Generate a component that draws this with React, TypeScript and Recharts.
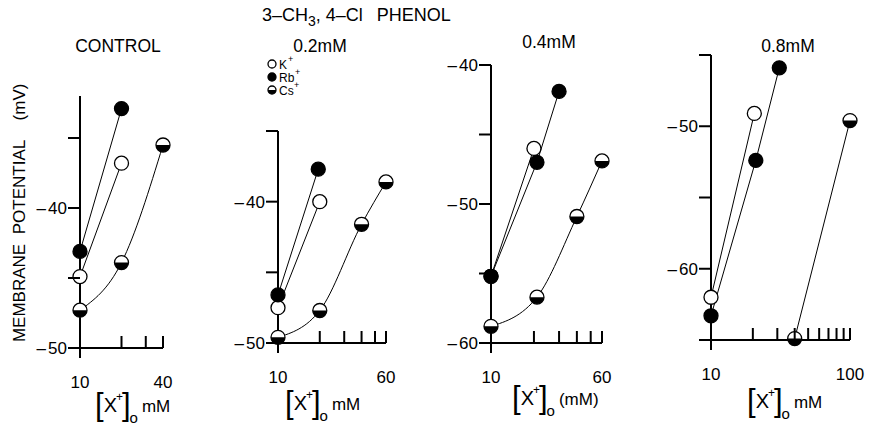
import { LineChart, Line, XAxis, YAxis } from 'recharts';

// [X+]o (mM) against membrane potential (mV)
const CONTROL_K = [{ conc: 10, mv: -44.9 }, { conc: 20, mv: -36.8 }];
const CONTROL_RB = [{ conc: 10, mv: -43.1 }, { conc: 20, mv: -32.9 }];
const CONTROL_CS = [{ conc: 10, mv: -47.3 }, { conc: 20, mv: -43.9 }, { conc: 40, mv: -35.5 }];

const PHENOL_02_K = [{ conc: 10, mv: -47.5 }, { conc: 20, mv: -40.0 }];
const PHENOL_02_RB = [{ conc: 10, mv: -46.6 }, { conc: 19.5, mv: -37.7 }];
const PHENOL_02_CS = [{ conc: 10, mv: -49.6 }, { conc: 20, mv: -47.7 }, { conc: 40, mv: -41.6 }, { conc: 60, mv: -38.6 }];

const PHENOL_04_K = [{ conc: 10, mv: -55.2 }, { conc: 20, mv: -46.0 }];
const PHENOL_04_RB = [{ conc: 10, mv: -55.2 }, { conc: 21, mv: -47.0 }, { conc: 30, mv: -41.9 }];
const PHENOL_04_CS = [{ conc: 10, mv: -58.8 }, { conc: 21, mv: -56.7 }, { conc: 40, mv: -50.9 }, { conc: 60, mv: -46.9 }];

const PHENOL_08_K = [{ conc: 10, mv: -62.0 }, { conc: 20.5, mv: -49.1 }];
const PHENOL_08_RB = [{ conc: 10, mv: -63.3 }, { conc: 21, mv: -52.4 }, { conc: 31, mv: -45.9 }];
const PHENOL_08_CS = [{ conc: 40, mv: -64.9 }, { conc: 100, mv: -49.6 }];

const X_TICKS_40 = [10, 20, 30, 40];
const X_TICKS_60 = [10, 20, 30, 40, 50, 60];
const X_TICKS_100 = [10, 20, 30, 40, 50, 60, 70, 80, 90, 100];

const FONT = '"Liberation Sans", Arial, sans-serif';

const PANELS = [
  {
    name: 'CONTROL', titleX: 118, titleY: 52,
    axisX: 80, xEnd: 163, yTop: 96, yBottom: 348,
    xDomain: [10, 40], xTicks: X_TICKS_40, xLabels: [10, 40],
    yDomain: [-50, -32], yTicks: [-50, -45, -40, -35], yLabels: [-50, -40],
    k: CONTROL_K, rb: CONTROL_RB, cs: CONTROL_CS,
    unit: 'mM', labelX: 95, labelY: 412,
  },
  {
    name: '0.2mM', titleX: 320, titleY: 52,
    axisX: 278, xEnd: 386, yTop: 131, yBottom: 343,
    xDomain: [10, 60], xTicks: X_TICKS_60, xLabels: [10, 60],
    yDomain: [-50, -35], yTicks: [-50, -45, -40, -35], yLabels: [-50, -40],
    k: PHENOL_02_K, rb: PHENOL_02_RB, cs: PHENOL_02_CS,
    unit: 'mM', labelX: 285, labelY: 410,
  },
  {
    name: '0.4mM', titleX: 549, titleY: 48,
    axisX: 491, xEnd: 602, yTop: 65, yBottom: 343,
    xDomain: [10, 60], xTicks: X_TICKS_60, xLabels: [10, 60],
    yDomain: [-60, -40], yTicks: [-60, -55, -50, -45, -40], yLabels: [-60, -50, -40],
    k: PHENOL_04_K, rb: PHENOL_04_RB, cs: PHENOL_04_CS,
    unit: '(mM)', labelX: 512, labelY: 405,
  },
  {
    name: '0.8mM', titleX: 788, titleY: 52,
    axisX: 711, xEnd: 850, yTop: 55, yBottom: 340,
    xDomain: [10, 100], xTicks: X_TICKS_100, xLabels: [10, 100],
    yDomain: [-65, -45], yTicks: [-65, -60, -55, -50, -45], yLabels: [-60, -50],
    k: PHENOL_08_K, rb: PHENOL_08_RB, cs: PHENOL_08_CS,
    unit: 'mM', labelX: 747, labelY: 408,
  },
];

function Marker({ cx, cy, kind }: any) {
  if (cx == null || cy == null) return null;
  const r = 7;
  if (kind === 'K') return <circle cx={cx} cy={cy} r={r} fill="#fff" stroke="#000" strokeWidth={1.3} />;
  if (kind === 'Rb') return <circle cx={cx} cy={cy} r={r} fill="#000" stroke="#000" strokeWidth={1.3} />;
  return (
    <g>
      <circle cx={cx} cy={cy} r={r} fill="#fff" stroke="#000" strokeWidth={1.3} />
      <path d={`M${cx - r},${cy} A${r},${r} 0 0 0 ${cx + r},${cy} Z`} fill="#000" />
    </g>
  );
}

function XTick({ x, y, payload, labels, first }: any) {
  const v = payload.value;
  const down = v === first;
  return (
    <g>
      <line x1={x} x2={x} y1={y} y2={down ? y + 10 : y - 12} stroke="#000" strokeWidth={2} />
      {labels.includes(v) && (
        <text x={x} y={y + 40} textAnchor="middle" fontSize={17} fontFamily={FONT} fill="#000">{v}</text>
      )}
    </g>
  );
}

function YTick({ x, y, payload, labels }: any) {
  const v = payload.value;
  return (
    <g>
      <line x1={x - 12} x2={x} y1={y} y2={y} stroke="#000" strokeWidth={2} />
      {labels.includes(v) && (
        <text x={x - 13} y={y + 6} textAnchor="end" fontSize={17} fontFamily={FONT} fill="#000">
          {'\u2013'}<tspan dx={2}>{Math.abs(v)}</tspan>
        </text>
      )}
    </g>
  );
}

function Panel({ p }: any) {
  const yAxisW = 60;
  const width = yAxisW + (p.xEnd - p.axisX) + 20;
  const height = 10 + (p.yBottom - p.yTop) + 50;
  const dot = (kind: string) => (props: any) => <Marker key={`${kind}-${props.index}`} {...props} kind={kind} />;
  return (
    <div style={{ position: 'absolute', left: p.axisX - yAxisW, top: p.yTop - 10 }}>
      <LineChart width={width} height={height} margin={{ top: 10, right: 20, bottom: 0, left: 0 }}>
        <XAxis
          dataKey="conc" type="number" scale="log" domain={p.xDomain} ticks={p.xTicks} interval={0}
          height={50} tickSize={0} tickMargin={0} tickLine={false}
          axisLine={{ stroke: '#000', strokeWidth: 2 }}
          tick={(props: any) => <XTick {...props} labels={p.xLabels} first={p.xDomain[0]} />}
        />
        <YAxis
          type="number" domain={p.yDomain} ticks={p.yTicks} interval={0}
          width={yAxisW} tickSize={0} tickMargin={0} tickLine={false}
          axisLine={{ stroke: '#000', strokeWidth: 2 }}
          tick={(props: any) => <YTick {...props} labels={p.yLabels} />}
        />
        <Line data={p.cs} dataKey="mv" type="monotone" stroke="#000" strokeWidth={1} dot={dot('Cs')} isAnimationActive={false} />
        <Line data={p.k} dataKey="mv" type="linear" stroke="#000" strokeWidth={1} dot={dot('K')} isAnimationActive={false} />
        <Line data={p.rb} dataKey="mv" type="linear" stroke="#000" strokeWidth={1} dot={dot('Rb')} isAnimationActive={false} />
      </LineChart>
    </div>
  );
}

function XLabel({ x, y, unit }: any) {
  return (
    <text x={x} y={y} fontSize={17} fontFamily={FONT} fill="#000">
      <tspan y={y + 3} fontSize={31}>[</tspan>
      <tspan y={y} fontSize={20}>X</tspan>
      <tspan y={y - 11} fontSize={12} dx={-1}>+</tspan>
      <tspan y={y + 3} fontSize={31} dx={-1}>]</tspan>
      <tspan y={y + 11} fontSize={15} dx={-1}>o</tspan>
      <tspan y={y} dx={4}>{unit}</tspan>
    </text>
  );
}

export default function App() {
  return (
    <div style={{ position: 'absolute', left: 0, top: 0, width: 870, height: 426, background: '#fff', overflow: 'hidden' }}>
      {PANELS.map((p) => <Panel key={p.name} p={p} />)}
      <svg width={870} height={426} style={{ position: 'absolute', left: 0, top: 0, pointerEvents: 'none' }}>
        <text x={262} y={21} fontSize={18} fontFamily={FONT} fill="#000">
          <tspan>3–CH</tspan>
          <tspan dy={5} fontSize={14}>3</tspan>
          <tspan dy={-5}>, 4–Cl</tspan>
          <tspan dx={14}>PHENOL</tspan>
        </text>
        {PANELS.map((p) => (
          <text key={p.name} x={p.titleX} y={p.titleY} textAnchor="middle" fontSize={17.5} fontFamily={FONT} fill="#000">{p.name}</text>
        ))}
        <circle cx={272} cy={64} r={4} fill="#fff" stroke="#000" strokeWidth={1.3} />
        <circle cx={272} cy={77} r={4} fill="#000" stroke="#000" strokeWidth={1.3} />
        <circle cx={272} cy={90} r={4} fill="#fff" stroke="#000" strokeWidth={1.3} />
        <path d="M268,90 A4,4 0 0 0 276,90 Z" fill="#000" />
        <g fontSize={12} fontFamily={FONT} fill="#000">
          <text x={279} y={69}>K</text>
          <text x={279} y={82}>Rb</text>
          <text x={279} y={95}>Cs</text>
        </g>
        <g fontSize={9} fontFamily={FONT} fill="#000">
          <text x={288} y={62}>+</text>
          <text x={295} y={75}>+</text>
          <text x={294} y={88}>+</text>
        </g>
        <g fontSize={17} fontFamily={FONT} fill="#000" textAnchor="middle">
          <text transform="translate(25,293) rotate(-90)">MEMBRANE</text>
          <text transform="translate(25,187) rotate(-90)">POTENTIAL</text>
          <text transform="translate(25,102) rotate(-90)">(mV)</text>
        </g>
        {PANELS.map((p) => <XLabel key={p.name} x={p.labelX} y={p.labelY} unit={p.unit} />)}
      </svg>
    </div>
  );
}
